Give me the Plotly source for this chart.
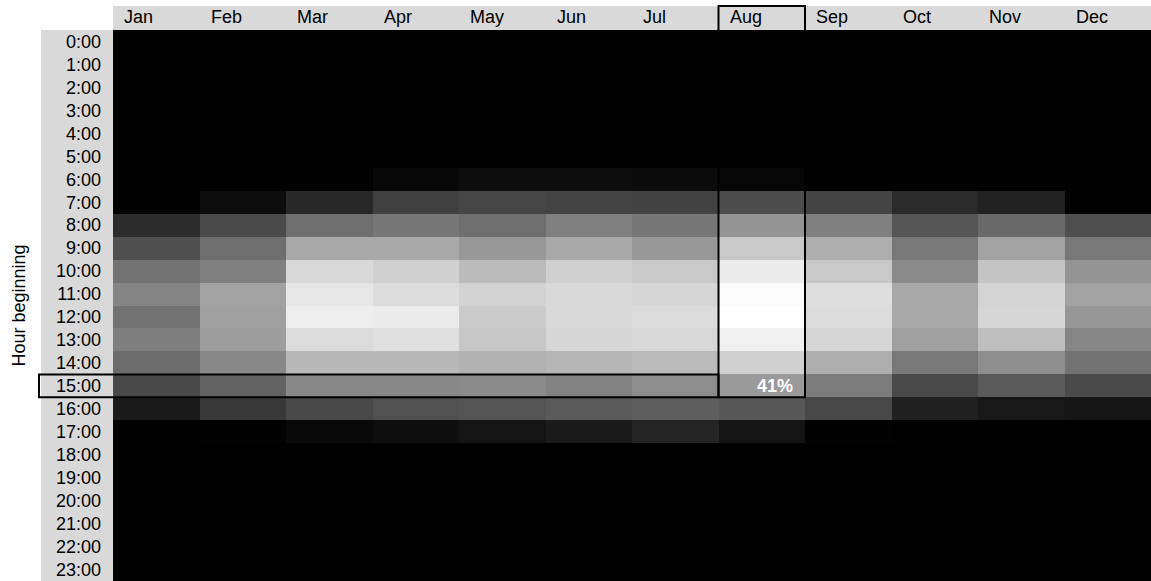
import plotly.graph_objects as go

months = ["Jan", "Feb", "Mar", "Apr", "May", "Jun", "Jul", "Aug", "Sep", "Oct", "Nov", "Dec"]
hours = [f"{h}:00" for h in range(24)]

# average output share (%) by hour (rows) and month (columns)
zero = [0.0] * 12
h06 = [0.0, 0.0, 0.0, 1.9, 3.5, 3.5, 2.9, 1.6, 0.0, 0.0, 0.0, 0.0]
h07 = [0.0, 3.2, 10.7, 17.0, 18.6, 18.1, 17.6, 20.2, 18.1, 11.2, 9.1, 0.0]
h08 = [11.7, 19.7, 29.3, 31.4, 29.3, 34.1, 31.4, 39.4, 34.1, 22.9, 28.2, 20.8]
h09 = [21.0, 29.3, 44.7, 44.7, 40.5, 44.7, 40.5, 53.3, 46.3, 32.0, 43.1, 32.0]
h10 = [30.4, 34.1, 57.5, 55.4, 49.8, 55.4, 53.3, 62.8, 53.3, 36.7, 52.2, 39.4]
h11 = [35.4, 43.1, 61.2, 58.6, 55.9, 57.5, 57.0, 67.1, 59.1, 44.7, 56.5, 43.1]
h12 = [30.4, 42.6, 63.4, 62.8, 53.8, 57.5, 58.6, 67.9, 58.6, 44.7, 57.0, 39.9]
h13 = [33.6, 42.1, 58.6, 59.7, 52.7, 57.0, 57.5, 63.9, 57.0, 42.6, 50.6, 35.7]
h14 = [28.8, 36.2, 49.0, 49.0, 47.4, 48.5, 49.5, 55.4, 46.3, 32.0, 37.8, 30.4]
h15 = [19.2, 26.1, 36.2, 36.2, 36.7, 34.6, 37.3, 41.0, 33.0, 19.7, 24.0, 19.7]
h16 = [6.9, 14.9, 19.2, 21.3, 22.4, 24.0, 25.0, 23.4, 19.2, 8.5, 6.4, 5.9]
h17 = [0.0, 0.5, 2.4, 3.7, 5.3, 6.9, 9.6, 5.3, 0.5, 0.3, 0.0, 0.0]

values = [zero] * 6 + [h06, h07, h08, h09, h10, h11, h12, h13, h14, h15, h16, h17] + [zero] * 6

highlight_month = "Aug"
highlight_hour = "15:00"

W, H = 1151, 581
L, T = 113, 30
pw, ph = W - L, H - T
FONT = "Liberation Sans, Arial, sans-serif"
GRAY = "#d9d9d9"

zmax = max(max(r) for r in values)

fig = go.Figure(go.Heatmap(
    x=months, y=hours, z=values,
    colorscale=[[0, "black"], [1, "white"]],
    zmin=0, zmax=zmax, showscale=False, hoverinfo="skip",
))

ncol, nrow = len(months), len(hours)
cw = pw / ncol
mi = months.index(highlight_month)
hi = hours.index(highlight_hour)

def px_x(X):
    return (X - L) / pw

def px_y(Y):
    return 1 - (Y - T) / ph

header_top = px_y(6)

shapes = [
    # header background
    dict(type="rect", xref="paper", yref="paper", x0=0, x1=1, y0=1, y1=header_top,
         fillcolor=GRAY, line=dict(width=0), layer="below"),
    # hour label background
    dict(type="rect", xref="paper", yref="paper", x0=px_x(41), x1=0, y0=0, y1=1,
         fillcolor=GRAY, line=dict(width=0), layer="below"),
    # highlighted row
    dict(type="rect", xref="paper", yref="paper", x0=px_x(39), x1=mi / ncol,
         y0=1 - (hi + 1) / nrow, y1=1 - hi / nrow,
         line=dict(color="black", width=2), fillcolor="rgba(0,0,0,0)"),
    # highlighted column
    dict(type="rect", xref="paper", yref="paper", x0=mi / ncol, x1=(mi + 1) / ncol,
         y0=1 - (hi + 1) / nrow, y1=header_top,
         line=dict(color="black", width=2), fillcolor="rgba(0,0,0,0)"),
]

annotations = []
for m in months:
    annotations.append(dict(
        x=m, y=1, xref="x", yref="paper", text=m, showarrow=False,
        xanchor="left", yanchor="bottom", xshift=-cw / 2 + 9, yshift=1,
        font=dict(family=FONT, size=18, color="black"),
    ))

hv = values[hi][mi]
annotations.append(dict(
    x=highlight_month, y=highlight_hour, xref="x", yref="y",
    text=f"{hv:.0f}%", showarrow=False, xanchor="right", yanchor="middle",
    xshift=cw / 2 - 10, font=dict(family=FONT, size=18, color="white", weight="bold"),
))

annotations.append(dict(
    x=px_x(18), y=0.5, xref="paper", yref="paper", text="Hour beginning",
    showarrow=False, textangle=-90, xanchor="center", yanchor="middle",
    font=dict(family=FONT, size=18, color="black"),
))

fig.update_layout(
    width=W, height=H,
    margin=dict(l=L, r=0, t=T, b=0, pad=0),
    paper_bgcolor="white", plot_bgcolor="black",
    xaxis=dict(type="category", showticklabels=False, showgrid=False, zeroline=False,
               ticks="", fixedrange=True),
    yaxis=dict(type="category", autorange="reversed", showgrid=False, zeroline=False,
               ticks="", ticklabelstandoff=11,
               tickfont=dict(family=FONT, size=18, color="black"), fixedrange=True),
    shapes=shapes, annotations=annotations,
    font=dict(family=FONT),
)

fig.write_html(
    "out.html",
    config={"displayModeBar": False},
    post_script="document.body.style.margin='0px';document.body.style.overflow='hidden';",
)
